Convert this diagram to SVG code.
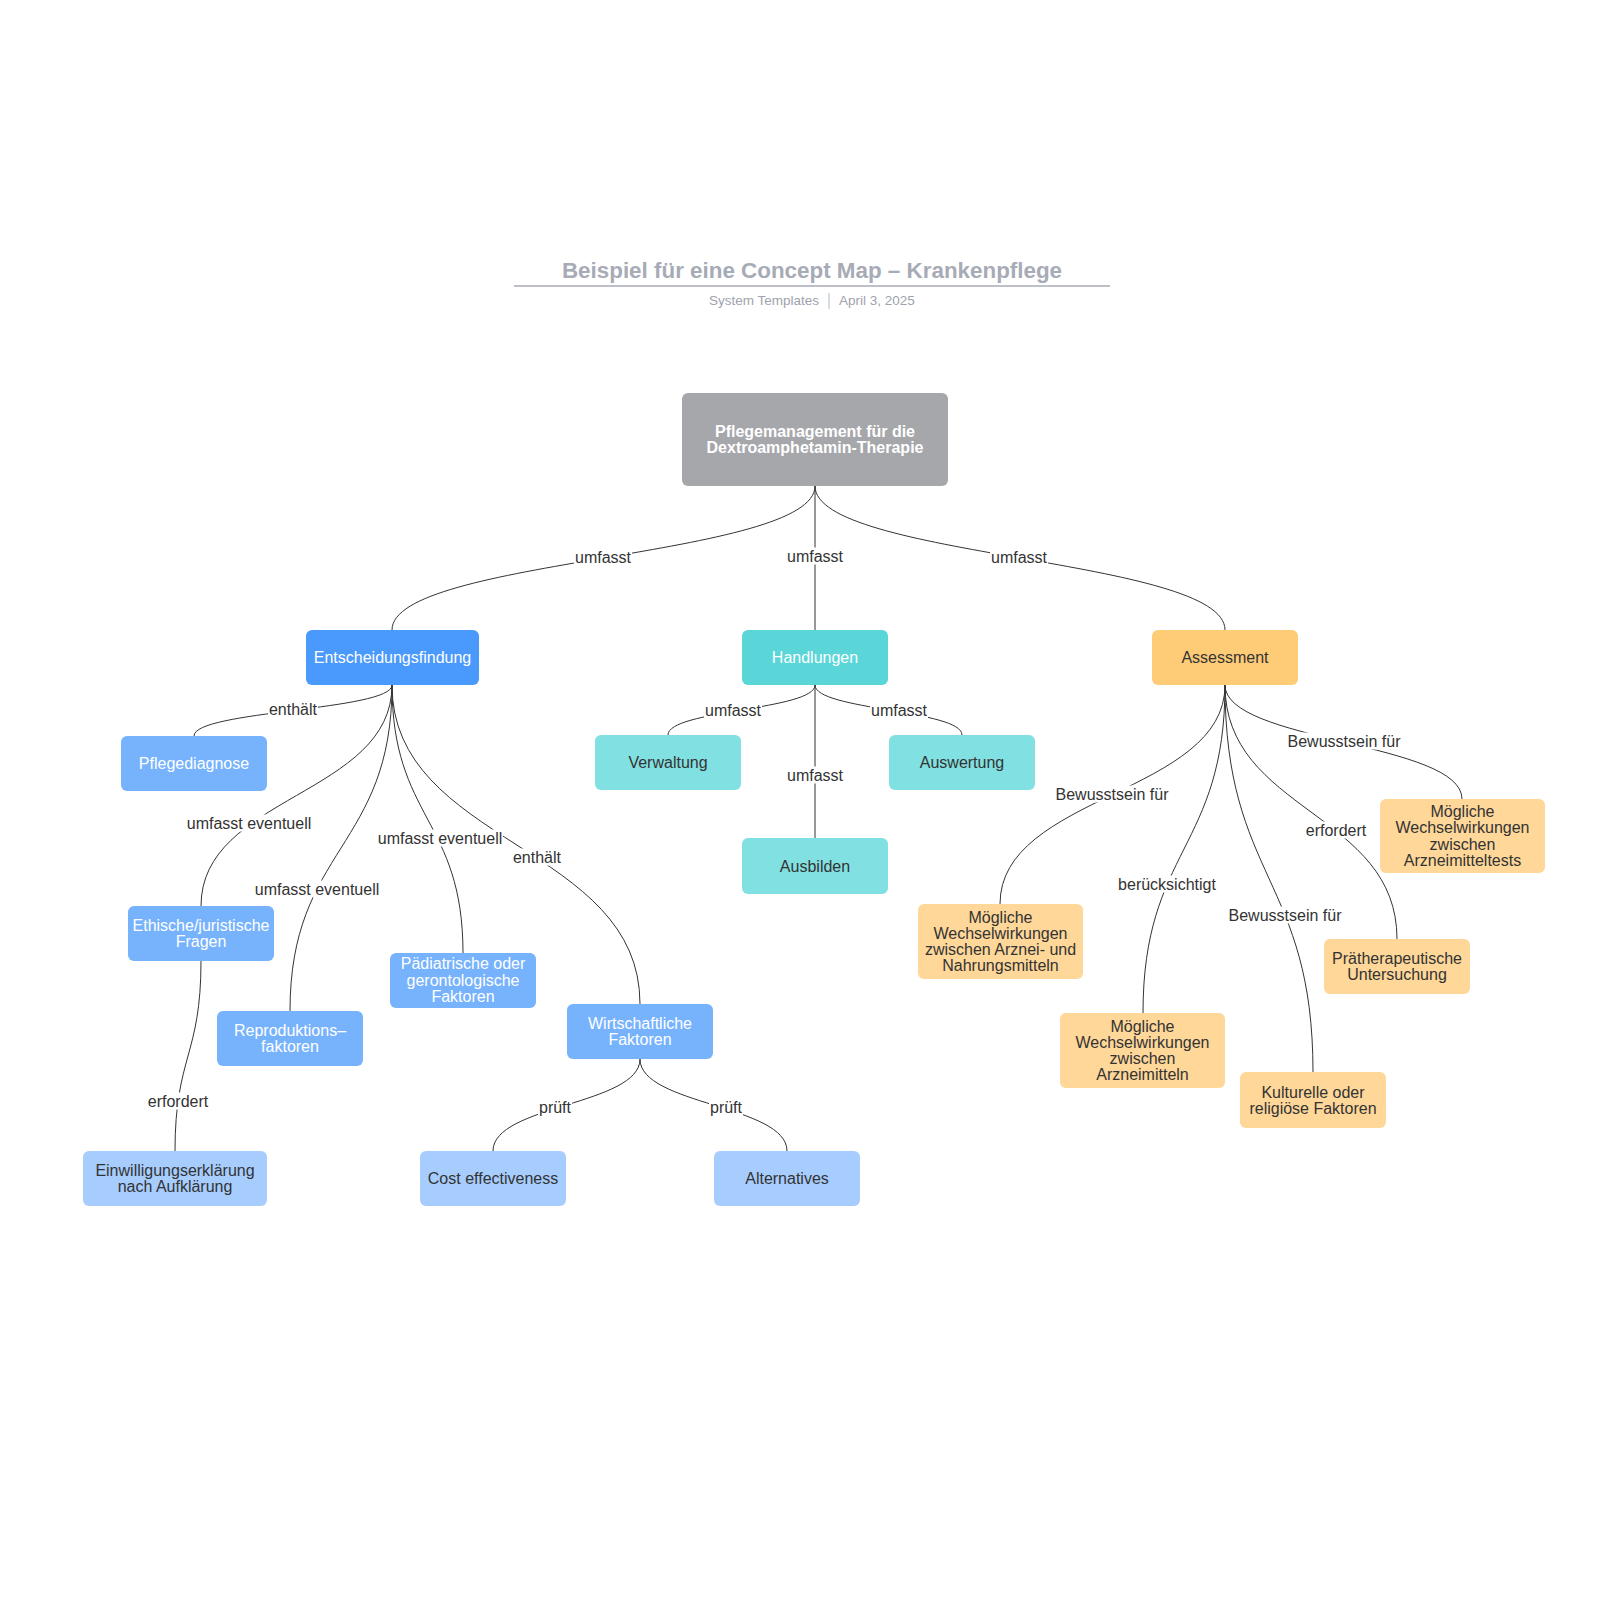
<svg xmlns="http://www.w3.org/2000/svg" width="1600" height="1600" viewBox="0 0 1600 1600">
<style>
text{font-family:"Liberation Sans",Arial,Helvetica,sans-serif;}
.t{font-size:16px;text-anchor:middle;}
.w{fill:#ffffff;}
.d{fill:#333333;}
.root rect{fill:#a6a7ab;}
.root text{font-weight:bold;}
.l1b rect{fill:#4a99fc;}
.l2b rect{fill:#77b3fd;}
.l3b rect{fill:#a6cdfe;}
.l1t rect{fill:#5ad5d8;}
.l2t rect{fill:#81e0e1;}
.l1o rect{fill:#fecb77;}
.l2o rect{fill:#fed799;}
.edges path{fill:none;stroke:#333333;stroke-width:1;}
.lbl rect{fill:#ffffff;}
.lbl text{font-size:16px;text-anchor:middle;fill:#333333;}
</style>
<rect x="0" y="0" width="1600" height="1600" fill="#ffffff"/>
<g id="header">
<text x="812" y="278" font-size="22.4" font-weight="bold" text-anchor="middle" fill="#a7abb6">Beispiel für eine Concept Map – Krankenpflege</text>
<line x1="514" y1="286" x2="1110" y2="286" stroke="#a7abb6" stroke-width="1.5"/>
<text x="819" y="305" font-size="13.5" text-anchor="end" fill="#9ea3ad">System Templates</text>
<line x1="829" y1="293" x2="829" y2="309" stroke="#b5b9c2" stroke-width="1"/>
<text x="839" y="305" font-size="13.5" fill="#9ea3ad">April 3, 2025</text>
</g>
<g id="connectors">
<g class="edges">
<path d="M815,486 C815,558 392,558 392,630"/>
<path d="M815,486 L815,630"/>
<path d="M815,486 C815,558 1225,558 1225,630"/>
<path d="M392,685 C392,710.5 194,710.5 194,736"/>
<path d="M392,685 C392,795.5 201,795.5 201,906"/>
<path d="M392,685 C392,848 290,848 290,1011"/>
<path d="M392,685 C392,819 463,819 463,953"/>
<path d="M392,685 C392,844.5 640,844.5 640,1004"/>
<path d="M201,961 C201,1056 175,1056 175,1151"/>
<path d="M640,1059 C640,1105 493,1105 493,1151"/>
<path d="M640,1059 C640,1105 787,1105 787,1151"/>
<path d="M815,685 C815,710 668,710 668,735"/>
<path d="M815,685 C815,710 962,710 962,735"/>
<path d="M815,685 L815,838"/>
<path d="M1225,685 C1225,742 1462,742 1462,799"/>
<path d="M1225,685 C1225,794.5 1000,794.5 1000,904"/>
<path d="M1225,685 C1225,849 1143,849 1143,1013"/>
<path d="M1225,685 C1225,878.5 1313,878.5 1313,1072"/>
<path d="M1225,685 C1225,812 1397,812 1397,939"/>
</g>
<g class="lbl">
<rect x="574" y="548.5" width="58" height="17"/><text x="603" y="562.5">umfasst</text>
<rect x="786" y="547.5" width="58" height="17"/><text x="815" y="561.5">umfasst</text>
<rect x="990" y="548.5" width="58" height="17"/><text x="1019" y="562.5">umfasst</text>
<rect x="268" y="700.5" width="50" height="17"/><text x="293" y="714.5">enthält</text>
<rect x="186" y="814.5" width="126" height="17"/><text x="249" y="828.5">umfasst eventuell</text>
<rect x="254" y="880.5" width="126" height="17"/><text x="317" y="894.5">umfasst eventuell</text>
<rect x="377" y="829.5" width="126" height="17"/><text x="440" y="843.5">umfasst eventuell</text>
<rect x="512" y="848.5" width="50" height="17"/><text x="537" y="862.5">enthält</text>
<rect x="147" y="1092.5" width="62" height="17"/><text x="178" y="1106.5">erfordert</text>
<rect x="538" y="1098.5" width="34" height="17"/><text x="555" y="1112.5">prüft</text>
<rect x="709" y="1098.5" width="34" height="17"/><text x="726" y="1112.5">prüft</text>
<rect x="704" y="701.5" width="58" height="17"/><text x="733" y="715.5">umfasst</text>
<rect x="870" y="701.5" width="58" height="17"/><text x="899" y="715.5">umfasst</text>
<rect x="786" y="766.5" width="58" height="17"/><text x="815" y="780.5">umfasst</text>
<rect x="1286.5" y="732.5" width="115" height="17"/><text x="1344" y="746.5">Bewusstsein für</text>
<rect x="1054.5" y="785.5" width="115" height="17"/><text x="1112" y="799.5">Bewusstsein für</text>
<rect x="1117" y="875.5" width="100" height="17"/><text x="1167" y="889.5">berücksichtigt</text>
<rect x="1227.5" y="906.5" width="115" height="17"/><text x="1285" y="920.5">Bewusstsein für</text>
<rect x="1305" y="821.5" width="62" height="17"/><text x="1336" y="835.5">erfordert</text>
</g>
</g>
<g id="n-root" class="root"><rect x="682" y="393" width="266" height="93" rx="6"/><text class="t w" x="815" y="436.5">Pflegemanagement für die</text><text class="t w" x="815" y="452.8">Dextroamphetamin-Therapie</text></g>
<g id="n-entscheidung" class="l1b"><rect x="306" y="630" width="173" height="55" rx="6"/><text class="t w" x="392.5" y="663">Entscheidungsfindung</text></g>
<g id="n-handlungen" class="l1t"><rect x="742" y="630" width="146" height="55" rx="6"/><text class="t w" x="815" y="663">Handlungen</text></g>
<g id="n-assessment" class="l1o"><rect x="1152" y="630" width="146" height="55" rx="6"/><text class="t d" x="1225" y="663">Assessment</text></g>
<g id="n-pflegediagnose" class="l2b"><rect x="121" y="736" width="146" height="55" rx="6"/><text class="t w" x="194" y="769">Pflegediagnose</text></g>
<g id="n-ethisch" class="l2b"><rect x="128" y="906" width="146" height="55" rx="6"/><text class="t w" x="201" y="931">Ethische/juristische</text><text class="t w" x="201" y="947.3">Fragen</text></g>
<g id="n-reproduktion" class="l2b"><rect x="217" y="1011" width="146" height="55" rx="6"/><text class="t w" x="290" y="1036">Reproduktions–</text><text class="t w" x="290" y="1052.3">faktoren</text></g>
<g id="n-paediatrisch" class="l2b"><rect x="390" y="953" width="146" height="55" rx="6"/><text class="t w" x="463" y="969.2">Pädiatrische oder</text><text class="t w" x="463" y="985.5">gerontologische</text><text class="t w" x="463" y="1001.8">Faktoren</text></g>
<g id="n-wirtschaft" class="l2b"><rect x="567" y="1004" width="146" height="55" rx="6"/><text class="t w" x="640" y="1029">Wirtschaftliche</text><text class="t w" x="640" y="1045.3">Faktoren</text></g>
<g id="n-einwilligung" class="l3b"><rect x="83" y="1151" width="184" height="55" rx="6"/><text class="t d" x="175" y="1176">Einwilligungserklärung</text><text class="t d" x="175" y="1192.3">nach Aufklärung</text></g>
<g id="n-cost" class="l3b"><rect x="420" y="1151" width="146" height="55" rx="6"/><text class="t d" x="493" y="1184">Cost effectiveness</text></g>
<g id="n-alternatives" class="l3b"><rect x="714" y="1151" width="146" height="55" rx="6"/><text class="t d" x="787" y="1184">Alternatives</text></g>
<g id="n-verwaltung" class="l2t"><rect x="595" y="735" width="146" height="55" rx="6"/><text class="t d" x="668" y="768">Verwaltung</text></g>
<g id="n-auswertung" class="l2t"><rect x="889" y="735" width="146" height="55" rx="6"/><text class="t d" x="962" y="768">Auswertung</text></g>
<g id="n-ausbilden" class="l2t"><rect x="742" y="838" width="146" height="56" rx="6"/><text class="t d" x="815" y="871.5">Ausbilden</text></g>
<g id="n-mw-tests" class="l2o"><rect x="1380" y="799" width="165" height="74" rx="6"/><text class="t d" x="1462.5" y="817">Mögliche</text><text class="t d" x="1462.5" y="833.3">Wechselwirkungen</text><text class="t d" x="1462.5" y="849.6">zwischen</text><text class="t d" x="1462.5" y="865.9">Arzneimitteltests</text></g>
<g id="n-mw-nahrung" class="l2o"><rect x="918" y="904" width="165" height="75" rx="6"/><text class="t d" x="1000.5" y="922.5">Mögliche</text><text class="t d" x="1000.5" y="938.8">Wechselwirkungen</text><text class="t d" x="1000.5" y="955.1">zwischen Arznei- und</text><text class="t d" x="1000.5" y="971.4">Nahrungsmitteln</text></g>
<g id="n-praether" class="l2o"><rect x="1324" y="939" width="146" height="55" rx="6"/><text class="t d" x="1397" y="964">Prätherapeutische</text><text class="t d" x="1397" y="980.3">Untersuchung</text></g>
<g id="n-mw-arznei" class="l2o"><rect x="1060" y="1013" width="165" height="75" rx="6"/><text class="t d" x="1142.5" y="1031.5">Mögliche</text><text class="t d" x="1142.5" y="1047.8">Wechselwirkungen</text><text class="t d" x="1142.5" y="1064.1">zwischen</text><text class="t d" x="1142.5" y="1080.4">Arzneimitteln</text></g>
<g id="n-kultur" class="l2o"><rect x="1240" y="1072" width="146" height="56" rx="6"/><text class="t d" x="1313" y="1097.5">Kulturelle oder</text><text class="t d" x="1313" y="1113.8">religiöse Faktoren</text></g>
</svg>
